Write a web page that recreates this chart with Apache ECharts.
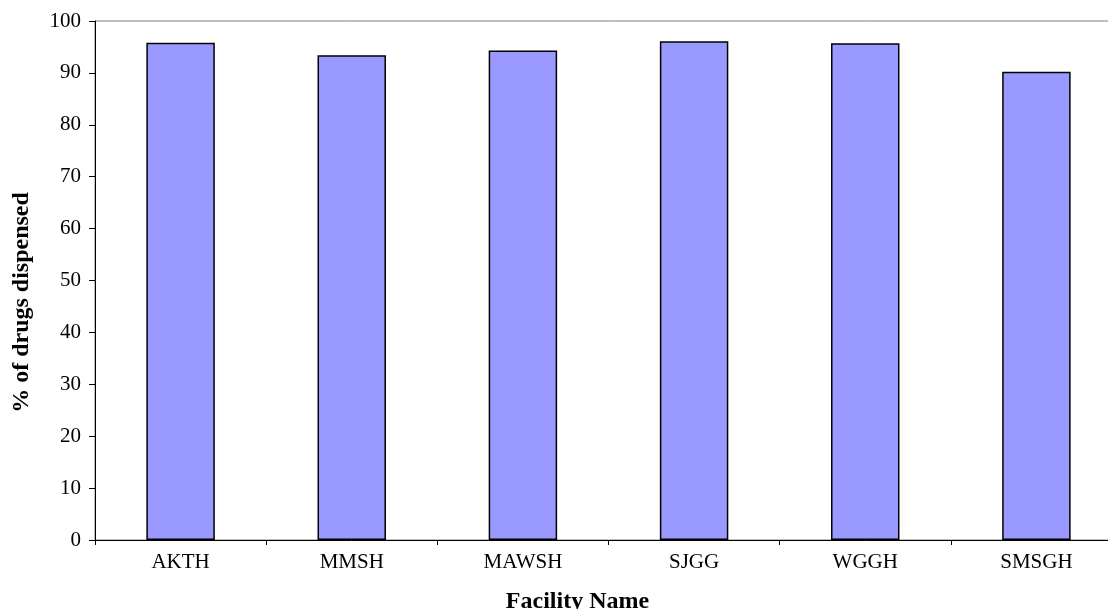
<!DOCTYPE html>
<html>
<head>
<meta charset="utf-8">
<script src="https://cdn.jsdelivr.net/npm/echarts@6/dist/echarts.min.js"></script>
<style>
  html, body { margin: 0; padding: 0; background: #fff; overflow: hidden; }
  /* the plot runs slightly past the right edge of the page */
  #chart { width: 1122px; height: 609px; }
</style>
</head>
<body>
<div id="chart"></div>
<script>
// Facilities and share of prescribed drugs that were dispensed (%)
const facilities = ['AKTH', 'MMSH', 'MAWSH', 'SJGG', 'WGGH', 'SMSGH'];
const dispensedPct = [95.8, 93.4, 94.3, 96.1, 95.7, 90.2];
const yTicks = { min: 0, max: 100, interval: 10 };

const font = '"Liberation Serif", "Times New Roman", serif';
const chart = echarts.init(document.getElementById('chart'), null, { renderer: 'canvas' });

chart.setOption({
  backgroundColor: '#ffffff',
  animation: false,
  textStyle: { fontFamily: font },
  grid: {
    show: true,
    left: 95, top: 21, right: 0, bottom: 69,
    outerBoundsMode: 'none',
    containLabel: false,
    borderColor: '#808080', borderWidth: 1,
    backgroundColor: 'transparent'
  },
  xAxis: {
    type: 'category',
    data: facilities,
    boundaryGap: true,
    name: 'Facility Name',
    nameLocation: 'middle',
    nameGap: 50,
    nameTextStyle: {
      fontFamily: font, fontSize: 24, fontWeight: 'bold', color: '#000',
      padding: [0, 62, 0, 0]
    },
    axisLine: { show: true, lineStyle: { color: '#000', width: 1 } },
    axisTick: { show: true, alignWithLabel: false, length: 5, lineStyle: { color: '#000' } },
    axisLabel: { fontFamily: font, fontSize: 21, color: '#000', margin: 12 },
    splitLine: { show: false }
  },
  yAxis: {
    type: 'value',
    min: yTicks.min, max: yTicks.max, interval: yTicks.interval,
    name: '% of drugs dispensed',
    nameLocation: 'middle',
    nameGap: 61,
    nameRotate: 90,
    nameTextStyle: {
      fontFamily: font, fontSize: 24, fontWeight: 'bold', color: '#000',
      padding: [0, 44, 0, 0]
    },
    axisLine: { show: true, lineStyle: { color: '#000', width: 1 } },
    axisTick: { show: true, inside: false, length: 6, lineStyle: { color: '#000' } },
    axisLabel: { fontFamily: font, fontSize: 21, color: '#000', margin: 14 },
    splitLine: { show: false }
  },
  series: [{
    type: 'bar',
    data: dispensedPct,
    barWidth: '40%',
    itemStyle: { color: '#9999FF', borderColor: '#000', borderWidth: 1.5 },
    silent: true
  }]
});
</script>
</body>
</html>
